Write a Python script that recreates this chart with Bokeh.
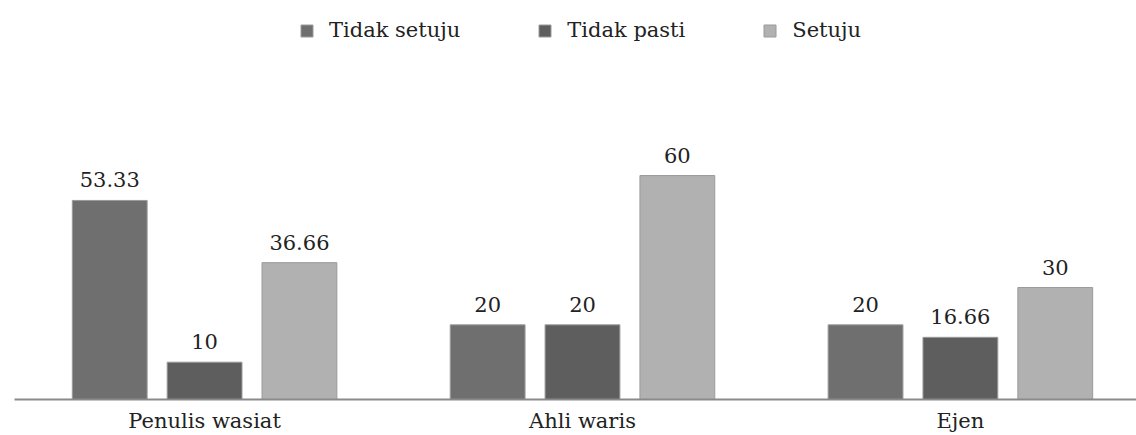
from bokeh.plotting import figure
from bokeh.models import ColumnDataSource, Range1d, FixedTicker, Legend, LegendItem, LabelSet
from bokeh.transform import dodge
from bokeh.core.properties import value
from bokeh.embed import file_html
from bokeh.resources import INLINE

categories = ["Penulis wasiat", "Ahli waris", "Ejen"]
tidak_setuju = [53.33, 20, 20]
tidak_pasti = [10, 20, 16.66]
setuju = [36.66, 60, 30]
series_names = ["Tidak setuju", "Tidak pasti", "Setuju"]
colors = ["#6f6f6f", "#5e5e5e", "#b1b1b1"]

FONT = "DejaVu Serif"
FSIZE = "21px"
xs = list(range(len(categories)))

src = ColumnDataSource(dict(
    x=xs,
    ts=tidak_setuju, tp=tidak_pasti, st=setuju,
    ts_l=[f"{v:g}" for v in tidak_setuju],
    tp_l=[f"{v:g}" for v in tidak_pasti],
    st_l=[f"{v:g}" for v in setuju],
))

p = figure(width=1136, height=435, output_backend="svg", toolbar_location=None,
           x_range=Range1d(-0.503, 2.466), y_range=Range1d(0, 106.9),
           min_border_left=14, min_border_right=0, min_border_top=0, min_border_bottom=36)
p.outline_line_color = None
p.xgrid.visible = False
p.ygrid.visible = False
p.yaxis.visible = False
p.background_fill_color = "white"

offsets = [-0.251, 0.0, 0.251]
cols = ["ts", "tp", "st"]
labs = ["ts_l", "tp_l", "st_l"]
renderers = []
for off, col, lab, c in zip(offsets, cols, labs, colors):
    r = p.vbar(x=dodge("x", off), top=col, width=0.198, source=src,
               fill_color=c, line_color="#9a9a9a", line_width=1)
    renderers.append(r)
    ls = LabelSet(x=dodge("x", off), y=col, text=lab, source=src,
                  text_align="center", text_baseline="alphabetic", y_offset=13,
                  text_font=value(FONT), text_font_size=FSIZE, text_color="#222222")
    p.add_layout(ls)

p.xaxis.ticker = FixedTicker(ticks=xs)
p.xaxis.major_label_overrides = {i: c for i, c in enumerate(categories)}
p.xaxis.major_tick_line_color = None
p.xaxis.minor_tick_line_color = None
p.xaxis.axis_line_color = "#8a8a8a"
p.xaxis.axis_line_width = 2
p.xaxis.major_label_text_font = FONT
p.xaxis.major_label_text_font_size = FSIZE
p.xaxis.major_label_text_color = "#222222"
p.xaxis.major_label_standoff = 3

legend = Legend(items=[LegendItem(label=n, renderers=[r]) for n, r in zip(series_names, renderers)],
                location=(285, 357), orientation="horizontal",
                border_line_color=None, background_fill_alpha=0,
                label_text_font=FONT, label_text_font_size=FSIZE, label_text_color="#222222",
                glyph_width=15, glyph_height=15, label_standoff=15, spacing=77,
                margin=0, padding=8)
p.add_layout(legend)

open("out.html", "w").write(file_html(p, INLINE))
